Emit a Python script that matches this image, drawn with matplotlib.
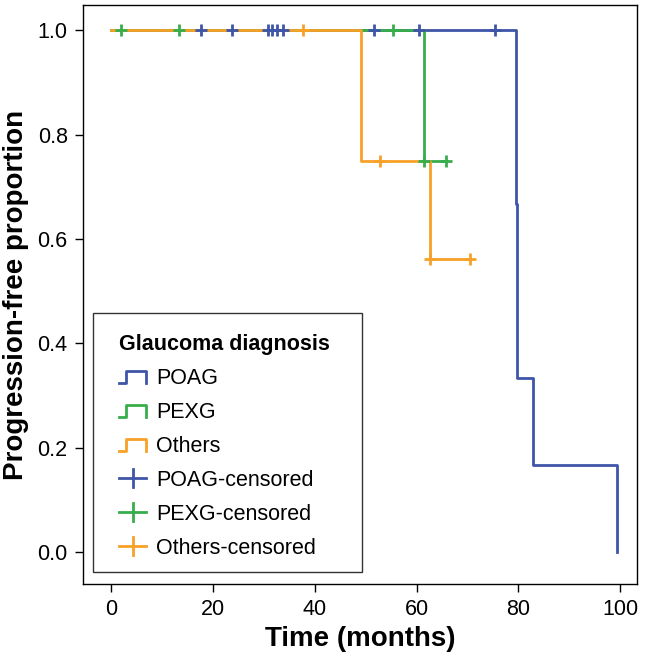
import numpy as np
import matplotlib
matplotlib.use("Agg")
import matplotlib.pyplot as plt
from matplotlib.lines import Line2D
from matplotlib.patches import Rectangle
from matplotlib.legend_handler import HandlerBase

plt.rcParams['font.family'] = ['Liberation Sans', 'DejaVu Sans']

# step curves (time of change, proportion after change)
poag_t = [0, 79.5, 79.7, 82.8, 99.3]
poag_s = [1.0, 0.6667, 0.3333, 0.1667, 0.0]
pexg_t = [0, 61.5, 65.8]
pexg_s = [1.0, 0.75, 0.75]
others_t = [0, 49.0, 62.6, 70.6]
others_s = [1.0, 0.75, 0.5625, 0.5625]

# censored observations
poag_cens_t = [17.6, 23.7, 30.9, 31.7, 32.6, 33.8, 51.7, 60.5, 75.4]
poag_cens_s = [1.0] * 9
pexg_cens_t = [1.9, 13.4, 55.4, 61.5, 65.8]
pexg_cens_s = [1.0, 1.0, 1.0, 0.75, 0.75]
others_cens_t = [37.7, 52.9, 62.6, 70.6]
others_cens_s = [1.0, 0.75, 0.5625, 0.5625]

groups = ["POAG", "PEXG", "Others"]
colors = ["#3E55A8", "#38AD4B", "#F7A128"]


class StepHandler(HandlerBase):
    def create_artists(self, legend, orig, xd, yd, w, h, fs, trans):
        xs = np.array([0, 0.25, 0.25, 1.0, 1.0]) * w - xd
        ys = np.array([0.1, 0.1, 0.85, 0.85, 0.1]) * h - yd
        ln = Line2D(xs, ys, color=orig.get_color(), lw=2, transform=trans)
        return [ln]


class CensHandler(HandlerBase):
    def create_artists(self, legend, orig, xd, yd, w, h, fs, trans):
        hl = Line2D([-xd, w - xd], [h / 2 - yd] * 2, color=orig.get_color(), lw=2, transform=trans)
        vl = Line2D([w / 2 - xd] * 2, [-0.1 * h - yd, 1.1 * h - yd], color=orig.get_color(), lw=2, transform=trans)
        return [hl, vl]


fig = plt.figure(figsize=(6.5, 6.57), dpi=100)
ax = fig.add_axes([0.1277, 0.111, 0.8523, 0.881])

curves = [(poag_t, poag_s), (pexg_t, pexg_s), (others_t, others_s)]
cens = [(poag_cens_t, poag_cens_s), (pexg_cens_t, pexg_cens_s), (others_cens_t, others_cens_s)]

step_lines = []
for (t, s), c, g in zip(curves, colors, groups):
    ln, = ax.step(t, s, where="post", color=c, lw=2, label=g)
    step_lines.append(ln)
cens_lines = []
for (t, s), c, g in zip(cens, colors, groups):
    ln, = ax.plot(t, s, ls="none", marker="+", ms=8, mew=2, color=c, label=g + "-censored", zorder=4)
    cens_lines.append(ln)

ax.set_xlim(-5.5, 103.3)
ax.set_ylim(-0.061, 1.048)
ax.set_xticks([0, 20, 40, 60, 80, 100])
ax.set_yticks([0.0, 0.2, 0.4, 0.6, 0.8, 1.0])
ax.set_yticklabels(["0.0", "0.2", "0.4", "0.6", "0.8", "1.0"])
ax.tick_params(length=6, width=1, labelsize=15.5, pad=5)
for sp in ax.spines.values():
    sp.set_linewidth(1)
ax.set_xlabel("Time (months)", fontsize=20, fontweight="bold", labelpad=4)
ax.set_ylabel("Progression-free proportion", fontsize=20, fontweight="bold", labelpad=6)

# legend box drawn separately so its size matches the original
fig.patches.append(Rectangle((0.1431, 0.1294), 0.4138, 0.3942, transform=fig.transFigure,
                             facecolor="white", edgecolor="#333333", lw=1, zorder=5))

hmap = {ln: StepHandler() for ln in step_lines}
hmap.update({ln: CensHandler() for ln in cens_lines})
leg = fig.legend(step_lines + cens_lines, [l.get_label() for l in step_lines + cens_lines],
                 handler_map=hmap, loc="lower left", bbox_to_anchor=(0.157, 0.1233),
                 borderaxespad=0, fontsize=15.5, title="Glaucoma diagnosis",
                 title_fontproperties={"weight": "bold", "size": 15.5},
                 frameon=False, handlelength=1.25, handletextpad=0.45, labelspacing=0.6,
                 borderpad=0.8, alignment="left")
leg.set_zorder(6)

fig.savefig("out.png", dpi=100)
